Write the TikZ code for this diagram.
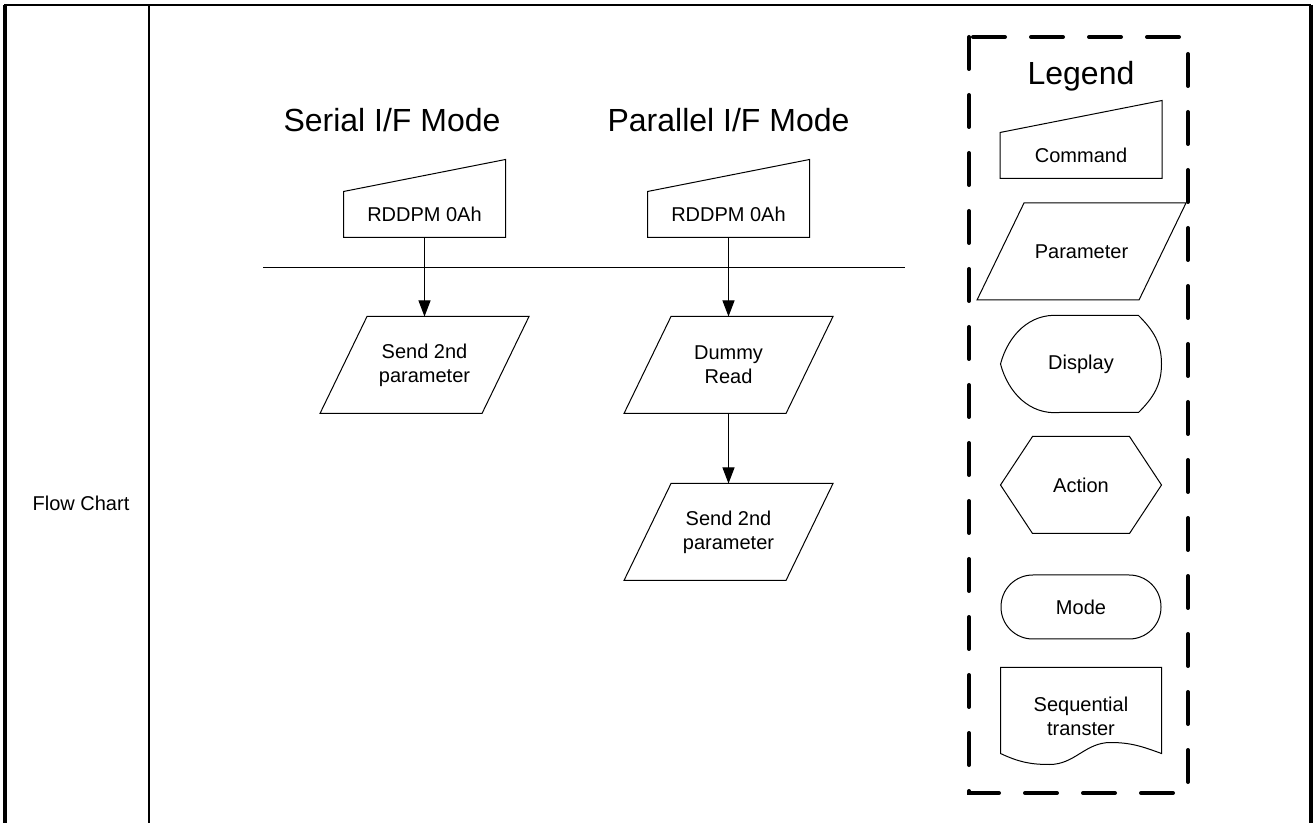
\documentclass[tikz,border=0pt]{standalone}
\usepackage{fontspec}
\setmainfont{Liberation Sans}
\usetikzlibrary{arrows.meta,positioning}

\begin{document}
\begin{tikzpicture}[x=0.5pt,y=-0.5pt,
  font=\fontsize{10}{12}\selectfont, >={Triangle[length=8pt,width=6pt]}, line width=0.5pt,
  title/.style={font=\fontsize{16}{19}\selectfont,anchor=base},
  cmd/.style={minimum width=80.5pt,minimum height=22.5pt,inner sep=0pt,
    append after command={\pgfextra{\draw (\tikzlastnode.south west)--(\tikzlastnode.north west)
      --([yshift=16pt]\tikzlastnode.north east)--(\tikzlastnode.south east)--cycle;}}},
  parm/.style={minimum width=104pt,minimum height=48pt,inner sep=0pt,align=center,
    append after command={\pgfextra{\draw ([xshift=23.5pt]\tikzlastnode.north west)--(\tikzlastnode.north east)
      --([xshift=-23.5pt]\tikzlastnode.south east)--(\tikzlastnode.south west)--cycle;}}},
  disp/.style={minimum width=80pt,minimum height=48pt,inner sep=0pt,
    append after command={\pgfextra{\draw ([xshift=29.5pt]\tikzlastnode.north west)
      --([xshift=-11.5pt]\tikzlastnode.north east) to[out=-45,in=90] (\tikzlastnode.east)
      to[out=-90,in=45] ([xshift=-11.5pt]\tikzlastnode.south east)
      --([xshift=29.5pt]\tikzlastnode.south west) to[out=185,in=-75] (\tikzlastnode.west)
      to[out=75,in=175] ([xshift=29.5pt]\tikzlastnode.north west)--cycle;}}},
  act/.style={minimum width=80pt,minimum height=48pt,inner sep=0pt,
    append after command={\pgfextra{\draw ([xshift=16pt]\tikzlastnode.north west)
      --([xshift=-16pt]\tikzlastnode.north east)--(\tikzlastnode.east)
      --([xshift=-16pt]\tikzlastnode.south east)--([xshift=16pt]\tikzlastnode.south west)
      --(\tikzlastnode.west)--cycle;}}},
  termbox/.style={draw,rounded corners=15.9pt,minimum width=80pt,minimum height=32pt,inner sep=0pt},
  seqdoc/.style={minimum width=80pt,minimum height=48pt,inner sep=0pt,align=center,
    append after command={\pgfextra{\draw ([yshift=5.5pt]\tikzlastnode.south west)
      --(\tikzlastnode.north west)--(\tikzlastnode.north east)--([yshift=5.5pt]\tikzlastnode.south east)
      to[out=160,in=0] ([xshift=-25.5pt,yshift=11pt]\tikzlastnode.south east)
      to[out=180,in=0] ([xshift=24.5pt]\tikzlastnode.south west)
      to[out=180,in=-25] ([yshift=5.5pt]\tikzlastnode.south west)--cycle;}}},
  legbox/.style={line width=2pt,dash pattern=on 16pt off 13pt,line cap=round}]
\useasboundingbox (0,0) rectangle (1313,823);
% table frame
\draw[line width=1pt] (4,5)--(1311,5);
\draw[line width=2pt] (5,5)--(5,823);
\draw[line width=1pt] (149,5)--(149,823);
\draw[line width=2pt] (1311,5)--(1311,823);
\node (rowlbl) at (81,503) {Flow Chart};
% flow
\node[title] (serT) at (392,132) {Serial I/F Mode};
\node[title] (parT) at (728.5,132) {Parallel I/F Mode};
\node[cmd] (cmdS) at (424.5,214.5) {RDDPM 0Ah};
\node[cmd] (cmdP) at (728.5,214.5) {RDDPM 0Ah};
\draw (263,268)--(905,268);
\node[parm,below=39.5pt of cmdS] (sndS) {Send 2nd\\parameter};
\node[parm,below=39.5pt of cmdP] (dumP) {Dummy\\Read};
\node[parm,below=35pt of dumP] (sndP) {Send 2nd\\parameter};
\draw[->] (cmdS)--(sndS);
\draw[->] (cmdP)--(dumP);
\draw[->] (dumP)--(sndP);
% legend
\draw[legbox] (969,37) rectangle (1188,793);
\node[title] (legT) at (1081,85) {Legend};
\node[cmd] (lgCmd) at (1081,155.5) {Command};
\node[parm] (lgPar) at (1081.5,251.5) {Parameter};
\node[disp] (lgDisp) at (1081,364) {Display};
\node[act] (lgAct) at (1081,485) {Action};
\node[termbox] (lgMode) at (1081,607) {Mode};
\node[seqdoc] (lgSeq) at (1081,716) {Sequential\\transter};
\end{tikzpicture}
\end{document}
